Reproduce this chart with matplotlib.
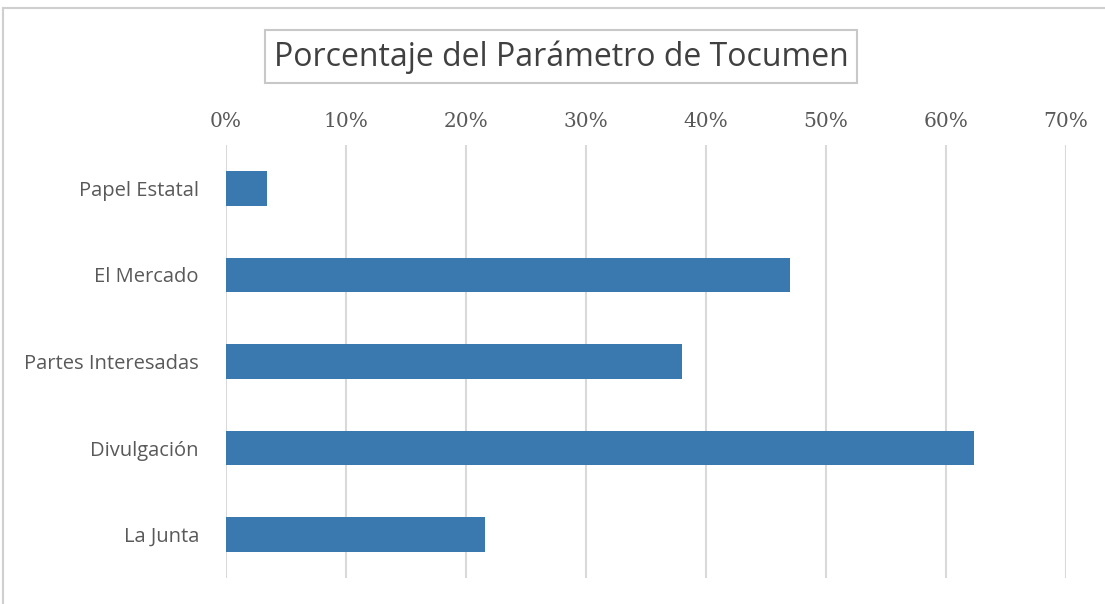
import matplotlib.pyplot as plt
from matplotlib.patches import Rectangle
from matplotlib.lines import Line2D

categories = ["Papel Estatal", "El Mercado", "Partes Interesadas", "Divulgación", "La Junta"]
values = [3.4, 47.0, 38.0, 62.3, 21.6]
xticks = [0, 10, 20, 30, 40, 50, 60, 70]
xticklabels = ["0%", "10%", "20%", "30%", "40%", "50%", "60%", "70%"]
title = "Porcentaje del Parámetro de Tocumen"

W, H = 1105, 604
fig = plt.figure(figsize=(W / 100, H / 100), dpi=100)
fig.patch.set_facecolor("white")

# outer chart border
fig.add_artist(Line2D([3 / W, 3 / W], [0, 1 - 8 / H], color="#cfcfcf", lw=1.5))
fig.add_artist(Line2D([3 / W, 1], [1 - 8 / H, 1 - 8 / H], color="#cfcfcf", lw=1.5))

ax = fig.add_axes([226 / W, 1 - 578 / H, (1066 - 226) / W, (578 - 145) / H])
y = list(range(len(categories)))
ax.barh(y, values, height=0.4, color="#3a78b0", zorder=3)
ax.set_ylim(len(categories) - 0.5, -0.5)
ax.set_xlim(0, 70)
ax.set_xticks(xticks)
ax.set_xticklabels(xticklabels, family="DejaVu Serif", fontsize=14.5, color="#595959")
ax.xaxis.tick_top()
ax.tick_params(axis="x", length=0, pad=10)
ax.set_yticks(y)
ax.set_yticklabels(categories, family="Open Sans", fontsize=14.5, color="#595959")
ax.tick_params(axis="y", length=0, pad=19.5)
ax.grid(axis="x", color="#d9d9d9", lw=1.5, zorder=0)
for s in ax.spines.values():
    s.set_visible(False)

# title in box
fig.text(561 / W, 1 - 57 / H, title, ha="center", va="center",
         family="Open Sans", fontsize=23, color="#404040")
fig.add_artist(Rectangle((265 / W, 1 - 83 / H), (857 - 265) / W, (83 - 30) / H,
                         fill=False, edgecolor="#c8c8c8", lw=1.5, transform=fig.transFigure))

fig.savefig("out.png", dpi=100)
